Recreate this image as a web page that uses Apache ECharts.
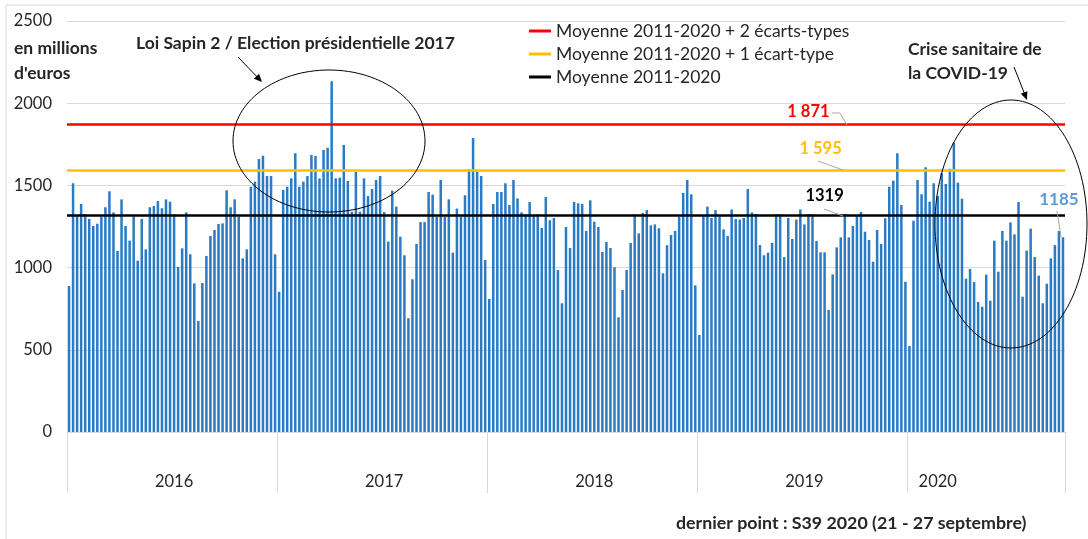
<!DOCTYPE html>
<html>
<head>
<meta charset="utf-8">
<script src="https://cdn.jsdelivr.net/npm/echarts@6/dist/echarts.min.js"></script>
<style>
  html, body { margin: 0; padding: 0; background: #fff; }
  #chart { width: 1088px; height: 539px; }
</style>
</head>
<body>
<div id="chart"></div>
<script>
// montants hebdomadaires, en millions d'euros
const years = ['2016', '2017', '2018', '2019', '2020'];
const v2016 = [888, 1513, 1316, 1387, 1326, 1296, 1253, 1267, 1310, 1367, 1464, 1336, 1101, 1415, 1253, 1164, 1310, 1042, 1296, 1111,
  1367, 1375, 1405, 1361, 1415, 1401, 1324, 1004, 1117, 1336, 1081, 904, 675, 906, 1071, 1192, 1229, 1265, 1269, 1470,
  1367, 1415, 1310, 1056, 1111, 1492, 1523, 1661, 1681, 1557, 1557, 1081];
const v2017 = [853, 1472, 1492, 1543, 1695, 1492, 1523, 1557, 1685, 1679, 1543, 1715, 1729, 2133, 1543, 1547, 1746, 1527, 1340, 1582,
  1340, 1543, 1436, 1478, 1533, 1557, 1338, 1158, 1468, 1371, 1188, 1075, 692, 929, 1144, 1277, 1277, 1460, 1444, 1310,
  1533, 1310, 1415, 1091, 1359, 1310, 1440, 1598, 1788, 1584, 1557, 1046];
const v2018 = [809, 1387, 1460, 1460, 1513, 1381, 1533, 1421, 1336, 1324, 1399, 1314, 1324, 1241, 1429, 1288, 1302, 985, 783, 1247,
  1119, 1399, 1391, 1387, 1223, 1409, 1279, 1247, 1095, 1156, 1119, 1002, 698, 864, 985, 1150, 1326, 1208, 1332, 1350,
  1257, 1263, 1239, 965, 1136, 1198, 1223, 1310, 1454, 1533, 1446, 892];
const v2019 = [590, 1314, 1371, 1302, 1350, 1310, 1233, 1192, 1354, 1296, 1292, 1302, 1478, 1336, 1326, 1137, 1075, 1091, 1150, 1326,
  1326, 1064, 1302, 1174, 1292, 1354, 1263, 1326, 1326, 1162, 1093, 1093, 742, 959, 1123, 1184, 1326, 1184, 1253, 1320,
  1338, 1218, 1168, 1036, 1229, 1144, 1300, 1492, 1529, 1695, 1381, 914];
const v2020 = [523, 1285, 1533, 1446, 1610, 1401, 1513, 1436, 1574, 1509, 1602, 1760, 1517, 1419, 933, 991, 912, 791, 762, 957,
  799, 1164, 975, 1223, 1164, 1275, 1202, 1399, 823, 1103, 1237, 1064, 951, 783, 902, 1056, 1137, 1223, 1185];

const seuilNames = ['Moyenne 2011-2020 + 2 écarts-types', 'Moyenne 2011-2020 + 1 écart-type', 'Moyenne 2011-2020'];
const seuilValues = [1871, 1595, 1319];
const seuilLabels = ['1 871', '1 595', '1319'];
const seuilColors = ['#FF0000', '#FFC000', '#000000'];

const yTicks = [0, 500, 1000, 1500, 2000, 2500];

// categories : une par semaine
const byYear = [v2016, v2017, v2018, v2019, v2020];
let weeks = [], values = [], yearStarts = [], yearLabelIdx = [];
byYear.forEach((arr, k) => {
  yearStarts.push(weeks.length);
  // 2020 incomplete : label placed as in the original
  yearLabelIdx.push(weeks.length + (k === 4 ? 7 : Math.floor(arr.length / 2)));
  arr.forEach((v, i) => {
    weeks.push(years[k] + ' S' + String(i + 1).padStart(2, '0'));
    values.push(v);
  });
});
const last = values.length - 1;

const FONT = 'Lato';
const txt = '#262626';

function arrow(x1, y1, x2, y2) {
  const dx = x2 - x1, dy = y2 - y1, L = Math.hypot(dx, dy);
  const ux = dx / L, uy = dy / L, h = 8, w = 3.5;
  return [
    { type: 'line', shape: { x1: x1, y1: y1, x2: x2 - ux * h * 0.6, y2: y2 - uy * h * 0.6 }, style: { stroke: '#000', lineWidth: 1 } },
    { type: 'polygon', shape: { points: [[x2, y2], [x2 - ux * h - uy * w, y2 - uy * h + ux * w], [x2 - ux * h + uy * w, y2 - uy * h - ux * w]] }, style: { fill: '#000' } }
  ];
}

const lblPos = [[183, -13], [186, -21], [187, -19]];

const lineSeries = seuilNames.map((name, i) => ({
  name: name,
  type: 'line',
  data: [],
  itemStyle: { color: seuilColors[i] },
  lineStyle: { color: seuilColors[i] },
  markLine: {
    silent: true,
    symbol: ['none', 'none'],
    label: { show: false },
    lineStyle: { color: seuilColors[i], width: 2.5, type: 'solid' },
    data: [{ yAxis: seuilValues[i] }]
  },
  markPoint: {
    silent: true,
    symbol: 'circle',
    symbolSize: 0,
    label: {
      show: true, formatter: seuilLabels[i], offset: [0, lblPos[i][1]],
      color: seuilColors[i], fontFamily: FONT, fontWeight: 'bold', fontSize: 16.5
    },
    data: [{ coord: [lblPos[i][0], seuilValues[i]] }]
  },
  z: 3 - i
}));

const chart = echarts.init(document.getElementById('chart'));
chart.setOption({
  animation: false,
  grid: { left: 67, right: 23, top: 21, bottom: 107, containLabel: false },
  legend: {
    orient: 'vertical',
    left: 524,
    top: 17,
    itemGap: 5,
    icon: 'rect',
    itemWidth: 22,
    itemHeight: 3,
    textStyle: { fontFamily: FONT, fontSize: 17.5, color: txt },
    data: seuilNames
  },
  xAxis: {
    type: 'category',
    data: weeks,
    boundaryGap: true,
    axisLine: { lineStyle: { color: '#d9d9d9', width: 1 } },
    axisTick: {
      show: true,
      length: 61,
      interval: (i) => yearStarts.includes(i),
      lineStyle: { color: '#d9d9d9', width: 1 }
    },
    axisLabel: {
      interval: (i) => yearLabelIdx.includes(i),
      formatter: (v) => v.slice(0, 4),
      margin: 41,
      fontFamily: FONT, fontSize: 16.5, color: txt
    },
    splitLine: { show: false }
  },
  yAxis: {
    type: 'value',
    min: yTicks[0],
    max: yTicks[yTicks.length - 1],
    interval: 500,
    axisLine: { show: false },
    axisTick: { show: false },
    axisLabel: { margin: 15, formatter: (v) => String(v), fontFamily: FONT, fontSize: 16.5, color: txt },
    splitLine: { lineStyle: { color: '#d9d9d9', width: 1 } }
  },
  series: [
    {
      name: 'Montant hebdomadaire',
      type: 'bar',
      data: values,
      barWidth: '62%',
      itemStyle: { color: '#2A7AC4' },
      markPoint: {
        silent: true,
        symbol: 'circle',
        symbolSize: 0,
        label: { show: true, formatter: String(values[last]), offset: [-4, -38], color: '#5B9BD5', fontFamily: FONT, fontWeight: 'bold', fontSize: 17 },
        data: [{ coord: [last, values[last]] }]
      },
      z: 1
    }
  ].concat(lineSeries),
  graphic: [
    { type: 'rect', shape: { x: 6, y: 5, width: 1100, height: 600 }, style: { fill: 'none', stroke: '#d9d9d9', lineWidth: 1 }, silent: true, z: -10 },
    { type: 'text', left: 14, top: 36, style: { text: "en millions\nd'euros", fontFamily: FONT, fontWeight: 'bold', fontSize: 17.5, lineHeight: 25, fill: txt } },
    { type: 'text', left: 136, top: 34, style: { text: 'Loi Sapin 2 / Election présidentielle 2017', fontFamily: FONT, fontWeight: 'bold', fontSize: 17.5, fill: txt } },
    { type: 'text', left: 908, top: 37, style: { text: 'Crise sanitaire de\nla COVID-19', fontFamily: FONT, fontWeight: 'bold', fontSize: 17.5, lineHeight: 24, fill: txt } },
    { type: 'text', left: 676, top: 514, style: { text: 'dernier point : S39 2020 (21 - 27 septembre)', fontFamily: FONT, fontWeight: 'bold', fontSize: 17.8, fill: txt } },
    { type: 'ellipse', shape: { cx: 329, cy: 141, rx: 96, ry: 71 }, style: { fill: 'none', stroke: '#000', lineWidth: 1 }, z: 20 },
    { type: 'ellipse', shape: { cx: 1011, cy: 224, rx: 76, ry: 124 }, style: { fill: 'none', stroke: '#000', lineWidth: 1 }, z: 20 },
    { type: 'polyline', shape: { points: [[832, 113], [840, 113], [847, 125]] }, style: { stroke: '#a6a6a6', lineWidth: 1, fill: 'none' }, z: 20 },
    { type: 'line', shape: { x1: 818, y1: 161, x2: 843, y2: 170 }, style: { stroke: '#a6a6a6', lineWidth: 1 }, z: 20 },
    { type: 'line', shape: { x1: 824, y1: 209, x2: 843, y2: 216 }, style: { stroke: '#a6a6a6', lineWidth: 1 }, z: 20 },
    { type: 'line', shape: { x1: 1057, y1: 211, x2: 1061, y2: 237 }, style: { stroke: '#a6a6a6', lineWidth: 1 }, z: 20 }
  ].concat(arrow(238, 57, 262, 82), arrow(1014, 67, 1027, 100))
});
window.addEventListener('resize', () => { chart.resize(); });
</script>
</body>
</html>
